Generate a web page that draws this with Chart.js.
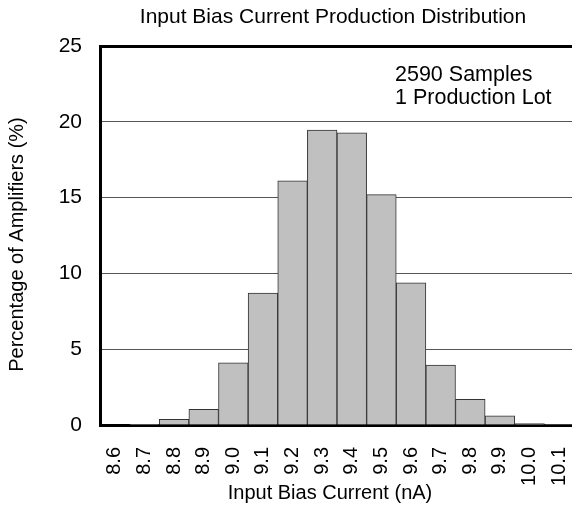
<!DOCTYPE html>
<html>
<head>
<meta charset="utf-8">
<script src="https://cdn.jsdelivr.net/npm/chart.js@4.4.0/dist/chart.umd.min.js"></script>
<style>
  html, body { margin: 0; padding: 0; overflow: hidden; background: #fff; }
  #wrap { width: 576px; height: 506px; }
</style>
</head>
<body>
<div id="wrap"><canvas id="histChart" width="576" height="506"></canvas></div>
<script>
// Histogram bins (nA) and percentage of amplifiers per bin
var binLabels = ['8.6', '8.7', '8.8', '8.9', '9.0', '9.1', '9.2', '9.3',
                 '9.4', '9.5', '9.6', '9.7', '9.8', '9.9', '10.0', '10.1'];
var percentValues = [0.0, 0.05, 0.37, 1.03, 4.1, 8.7, 16.1, 19.46,
                     19.28, 15.2, 9.37, 3.96, 1.7, 0.6, 0.1, 0.03];
var yTicks = [0, 5, 10, 15, 20, 25];

var chartTitle = 'Input Bias Current Production Distribution';
var xTitle = 'Input Bias Current (nA)';
var yTitle = 'Percentage of Amplifiers (%)';
var noteLines = ['2590 Samples', '1 Production Lot'];

var FONT = '"Liberation Sans", Arial, sans-serif';

// Titles and the note box text
var textPlugin = {
  id: 'textPlugin',
  afterDraw: function (chart) {
    var c = chart.ctx;
    var area = chart.chartArea;
    c.save();
    c.fillStyle = '#000';
    c.textAlign = 'center';
    c.textBaseline = 'middle';
    c.font = '21px ' + FONT;
    c.fillText(chartTitle, 333, 17);
    c.font = '20px ' + FONT;
    c.fillText(xTitle, 330, 493);
    c.save();
    c.translate(17, (area.top + area.bottom) / 2 + 9);
    c.rotate(-Math.PI / 2);
    c.fillText(yTitle, 0, 0);
    c.restore();
    c.textAlign = 'left';
    c.font = '21.5px ' + FONT;
    var yScale = chart.scales.y;
    c.fillText(noteLines[0], 395, yScale.getPixelForValue(23.05));
    c.fillText(noteLines[1], 395, yScale.getPixelForValue(21.55));
    c.restore();
  }
};

new Chart(document.getElementById('histChart'), {
  type: 'bar',
  data: {
    labels: binLabels,
    datasets: [{
      data: percentValues,
      backgroundColor: '#c0c0c0',
      borderColor: '#333333',
      borderWidth: 1,
      categoryPercentage: 1.0,
      barPercentage: 1.0
    }]
  },
  options: {
    responsive: false,
    animation: false,
    layout: { padding: { top: 46, right: 2, left: 0, bottom: 0 } },
    plugins: {
      legend: { display: false },
      tooltip: { enabled: false }
    },
    scales: {
      x: {
        grid: { display: false, drawTicks: false },
        border: { display: true, color: '#000', width: 3 },
        ticks: {
          color: '#000',
          font: { family: FONT, size: 20 },
          minRotation: 90,
          maxRotation: 90,
          autoSkip: false,
          padding: 22
        },
        afterFit: function (scale) {
          scale.height = 81;
          scale.paddingLeft = 0;
          scale.paddingRight = 0;
        }
      },
      y: {
        min: 0,
        max: 25,
        afterBuildTicks: function (scale) {
          scale.ticks = yTicks.map(function (v) { return { value: v }; });
        },
        grid: {
          drawTicks: false,
          color: function (ctx) { return ctx.tick && ctx.tick.value === 25 ? '#000' : '#555'; },
          lineWidth: function (ctx) { return ctx.tick && ctx.tick.value === 25 ? 3 : 1; }
        },
        border: { display: true, color: '#000', width: 3 },
        ticks: {
          color: '#000',
          font: { family: FONT, size: 21 },
          padding: 18
        },
        afterFit: function (scale) { scale.width = 100; }
      }
    }
  },
  plugins: [textPlugin]
});
</script>
</body>
</html>
